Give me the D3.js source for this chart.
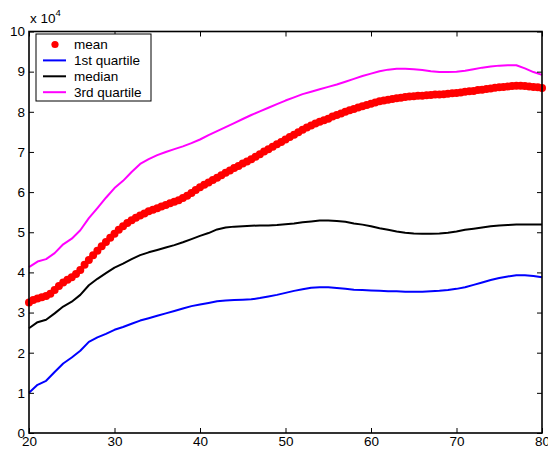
<!DOCTYPE html>
<html>
<head>
<meta charset="utf-8">
<script src="https://cdn.jsdelivr.net/npm/d3@7"></script>
<style>
  html, body { margin: 0; padding: 0; background: #fff; }
  svg { display: block; }
  text { font-family: "Liberation Sans", Arial, Helvetica, sans-serif; fill: #000; }
</style>
</head>
<body>
<svg id="chart" width="548" height="449"></svg>
<script>
// Income by age (values in units of 10^4)
const ages = d3.range(20, 81, 1);           // yearly grid for the quartile lines
const meanAges = d3.range(20, 80.5, 0.5);   // half-year grid for the mean markers

const firstQuartile = [
  1.00, 1.20, 1.30, 1.52, 1.73, 1.88, 2.05, 2.27, 2.38, 2.47,
  2.57, 2.64, 2.72, 2.80, 2.86, 2.92, 2.98, 3.04, 3.10, 3.16,
  3.20, 3.24, 3.28, 3.30, 3.31, 3.32, 3.33, 3.36, 3.40, 3.44,
  3.49, 3.54, 3.58, 3.62, 3.63, 3.63, 3.61, 3.59, 3.57, 3.56,
  3.55, 3.54, 3.53, 3.53, 3.52, 3.52, 3.52, 3.53, 3.54, 3.56,
  3.59, 3.63, 3.69, 3.75, 3.81, 3.86, 3.90, 3.93, 3.93, 3.91,
  3.88
];

const median = [
  2.61, 2.76, 2.82, 2.98, 3.15, 3.27, 3.44, 3.68, 3.84, 3.98,
  4.12, 4.22, 4.33, 4.43, 4.50, 4.56, 4.62, 4.68, 4.75, 4.83,
  4.91, 4.98, 5.07, 5.12, 5.14, 5.15, 5.16, 5.17, 5.17, 5.18,
  5.20, 5.22, 5.25, 5.27, 5.29, 5.29, 5.28, 5.26, 5.22, 5.19,
  5.15, 5.10, 5.06, 5.02, 4.99, 4.97, 4.96, 4.96, 4.97, 4.99,
  5.02, 5.06, 5.09, 5.12, 5.15, 5.17, 5.18, 5.19, 5.19, 5.19,
  5.19
];

const thirdQuartile = [
  4.13, 4.27, 4.33, 4.48, 4.70, 4.84, 5.05, 5.35, 5.60, 5.86,
  6.10, 6.28, 6.50, 6.70, 6.82, 6.92, 7.00, 7.07, 7.14, 7.22,
  7.31, 7.42, 7.52, 7.62, 7.72, 7.82, 7.92, 8.01, 8.10, 8.19,
  8.28, 8.36, 8.44, 8.50, 8.56, 8.62, 8.68, 8.75, 8.82, 8.89,
  8.95, 9.01, 9.05, 9.07, 9.07, 9.06, 9.04, 9.01, 8.99, 8.99,
  9.00, 9.02, 9.06, 9.10, 9.13, 9.15, 9.16, 9.16, 9.08, 8.99,
  8.92
];

const mean = [
  3.25, 3.31, 3.35, 3.38, 3.41, 3.47, 3.56, 3.66, 3.75, 3.82,
  3.88, 3.96, 4.06, 4.19, 4.31, 4.43, 4.54, 4.65, 4.76, 4.86,
  4.96, 5.06, 5.15, 5.23, 5.30, 5.36, 5.42, 5.47, 5.52, 5.56,
  5.60, 5.64, 5.68, 5.72, 5.76, 5.80, 5.85, 5.91, 5.98, 6.05,
  6.12, 6.18, 6.24, 6.30, 6.36, 6.42, 6.48, 6.54, 6.60, 6.65,
  6.71, 6.76, 6.82, 6.88, 6.94, 7.01, 7.07, 7.13, 7.19, 7.25,
  7.31, 7.37, 7.43, 7.49, 7.55, 7.61, 7.66, 7.71, 7.75, 7.79,
  7.83, 7.88, 7.92, 7.96, 8.00, 8.04, 8.07, 8.11, 8.14, 8.17,
  8.20, 8.23, 8.26, 8.28, 8.30, 8.32, 8.34, 8.35, 8.37, 8.38,
  8.39, 8.40, 8.40, 8.41, 8.42, 8.43, 8.43, 8.44, 8.45, 8.46,
  8.47, 8.48, 8.50, 8.51, 8.52, 8.54, 8.55, 8.57, 8.58, 8.60,
  8.61, 8.62, 8.63, 8.64, 8.65, 8.65, 8.64, 8.63, 8.62, 8.61,
  8.59
];

const xTicks = [20, 30, 40, 50, 60, 70, 80];
const yTicks = [0, 1, 2, 3, 4, 5, 6, 7, 8, 9, 10];
const legendLabels = ["mean", "1st quartile", "median", "3rd quartile"];

const svg = d3.select("#chart");
const plot = { left: 29, right: 542, top: 31.5, bottom: 433 };

const x = d3.scaleLinear().domain([20, 80]).range([plot.left, plot.right]);
const y = d3.scaleLinear().domain([0, 10]).range([plot.bottom, plot.top]);

// Curves
const line = d3.line().x(d => x(d[0])).y(d => y(d[1]));
const series = [
  { values: firstQuartile, color: "#0000ff" },
  { values: median, color: "#000000" },
  { values: thirdQuartile, color: "#ff00ff" }
];
series.forEach(s => {
  svg.append("path")
    .datum(ages.map((a, i) => [a, s.values[i]]))
    .attr("d", line)
    .attr("fill", "none")
    .attr("stroke", s.color)
    .attr("stroke-width", 2)
    .attr("stroke-linejoin", "round");
});

// Mean markers
svg.append("g").selectAll("circle")
  .data(meanAges.map((a, i) => [a, mean[i]]))
  .join("circle")
  .attr("cx", d => x(d[0]))
  .attr("cy", d => y(d[1]))
  .attr("r", 4)
  .attr("fill", "#ff0000");

// Axes: ticks point inward on all four sides
const tickLen = 5;
const fontSize = 13.5;

const axisBottom = d3.axisBottom(x).tickValues(xTicks).tickSizeInner(-tickLen).tickSizeOuter(0).tickPadding(3.5);
const axisTop = d3.axisTop(x).tickValues(xTicks).tickSizeInner(-tickLen).tickSizeOuter(0).tickFormat("");
const axisLeft = d3.axisLeft(y).tickValues(yTicks).tickSizeInner(-tickLen).tickSizeOuter(0).tickPadding(4);
const axisRight = d3.axisRight(y).tickValues(yTicks).tickSizeInner(-tickLen).tickSizeOuter(0).tickFormat("");

function styleAxis(g) {
  g.select(".domain").remove();
  g.selectAll(".tick line").attr("stroke", "#000").attr("stroke-width", 1);
  g.selectAll(".tick text")
    .attr("font-family", "Liberation Sans, Arial, sans-serif")
    .attr("font-size", fontSize)
    .attr("fill", "#000");
}

svg.append("g").attr("transform", `translate(0,${plot.bottom})`).call(axisBottom).call(styleAxis);
svg.append("g").attr("transform", `translate(0,${plot.top})`).call(axisTop).call(styleAxis);
svg.append("g").attr("transform", `translate(${plot.left},0)`).call(axisLeft).call(styleAxis);
svg.append("g").attr("transform", `translate(${plot.right},0)`).call(axisRight).call(styleAxis);

// Frame
svg.append("rect")
  .attr("x", plot.left).attr("y", plot.top)
  .attr("width", plot.right - plot.left).attr("height", plot.bottom - plot.top)
  .attr("fill", "none").attr("stroke", "#000").attr("stroke-width", 1.6);

// Exponent label
const expo = svg.append("text").attr("x", 30).attr("y", 23).attr("font-size", fontSize);
expo.append("tspan").text("x 10");
expo.append("tspan").attr("dy", -7).attr("font-size", 9.5).text("4");

// Legend
const legend = svg.append("g");
legend.append("rect")
  .attr("x", 36).attr("y", 34).attr("width", 115).attr("height", 67)
  .attr("fill", "#fff").attr("stroke", "#000").attr("stroke-width", 1);
const legendColors = ["#ff0000", "#0000ff", "#000000", "#ff00ff"];
legendLabels.forEach((lab, i) => {
  const cy = 44.5 + i * 15.9;
  if (i === 0) {
    legend.append("circle").attr("cx", 55).attr("cy", cy).attr("r", 3.6).attr("fill", legendColors[i]);
  } else {
    legend.append("line")
      .attr("x1", 43).attr("x2", 66).attr("y1", cy).attr("y2", cy)
      .attr("stroke", legendColors[i]).attr("stroke-width", 2);
  }
  legend.append("text")
    .attr("x", 74).attr("y", cy).attr("dy", "0.35em")
    .attr("font-size", fontSize)
    .text(lab);
});
</script>
</body>
</html>
